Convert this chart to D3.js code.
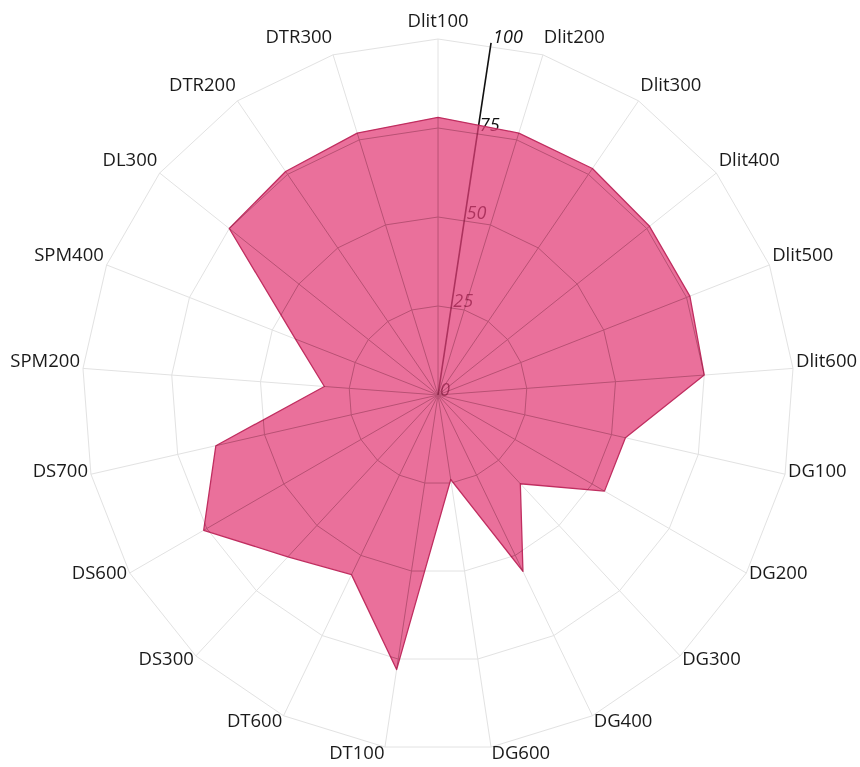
<!DOCTYPE html>
<html>
<head>
<meta charset="utf-8">
<script src="https://cdn.jsdelivr.net/npm/d3@7"></script>
<style>
  html, body { margin: 0; padding: 0; background: #ffffff; }
  svg { display: block; }
</style>
</head>
<body>
<svg id="chart" width="860" height="767"></svg>
<script>
const categories = ["Dlit100","Dlit200","Dlit300","Dlit400","Dlit500","Dlit600","DG100","DG200","DG300","DG400","DG600","DT100","DT600","DS300","DS600","DS700","SPM200","SPM400","DL300","DTR200","DTR300"];
const values = [78, 77, 77, 76, 76, 75, 54, 54, 34, 55, 24, 78, 56, 62, 76, 64, 32, 43, 75, 76, 77];
const radialTicks = [0, 25, 50, 75, 100];

const svg = d3.select("#chart");
const cx = 438, cy = 395, R = 356;
const n = categories.length;

const angle = d3.scaleLinear().domain([0, n]).range([0, 2 * Math.PI]);
const r = d3.scaleLinear().domain([0, 100]).range([0, R]);

const px = (a, rad) => cx + rad * Math.sin(a);
const py = (a, rad) => cy - rad * Math.cos(a);

const g = svg.append("g");

const line = d3.lineRadial()
  .angle((d, i) => angle(i))
  .radius(d => r(d))
  .curve(d3.curveLinearClosed);

svg.append("defs").append("clipPath").attr("id", "polyClip")
  .append("path").datum(values)
  .attr("transform", `translate(${cx},${cy})`)
  .attr("d", line);

function drawGrid(sel, color) {
  radialTicks.filter(t => t > 0).forEach(t => {
    const pts = d3.range(n).map(i => [px(angle(i), r(t)), py(angle(i), r(t))]);
    sel.append("path")
      .attr("d", d3.line().curve(d3.curveLinearClosed)(pts))
      .attr("fill", "none")
      .attr("stroke", color)
      .attr("stroke-width", 1);
  });
  sel.selectAll("line.spoke").data(d3.range(n)).enter().append("line")
    .attr("class", "spoke")
    .attr("x1", cx).attr("y1", cy)
    .attr("x2", i => px(angle(i), r(100)))
    .attr("y2", i => py(angle(i), r(100)))
    .attr("stroke", color)
    .attr("stroke-width", 1);
}

// light grid
drawGrid(g.append("g"), "#e2e2e2");

// radial axis (under the fill)
const axAngle = angle(0.5);
g.append("line")
  .attr("x1", px(axAngle, 0)).attr("y1", py(axAngle, 0))
  .attr("x2", px(axAngle, r(100))).attr("y2", py(axAngle, r(100)))
  .attr("stroke", "#111").attr("stroke-width", 1.6);

g.selectAll("text.tick").data(radialTicks).enter().append("text")
  .attr("class", "tick")
  .attr("x", d => px(axAngle, r(d)) + 2)
  .attr("y", d => py(axAngle, r(d)) + (d === 0 ? 1 : 0))
  .attr("font-family", "Open Sans, sans-serif")
  .attr("font-style", "italic")
  .attr("font-size", 18)
  .attr("fill", "#111")
  .text(d => d);

// data polygon
g.append("path")
  .datum(values)
  .attr("transform", `translate(${cx},${cy})`)
  .attr("d", line)
  .attr("fill", "rgb(226,62,120)")
  .attr("fill-opacity", 0.74)
  .attr("stroke", "rgb(192,46,96)")
  .attr("stroke-width", 1.3)
  .attr("stroke-linejoin", "round");

// grid seen through the fill (darker, multiplied)
const inner = g.append("g").attr("clip-path", "url(#polyClip)").style("mix-blend-mode", "multiply");
drawGrid(inner, "#d0c4c8");

// category labels
g.selectAll("text.cat").data(categories).enter().append("text")
  .attr("class", "cat")
  .attr("x", (d, i) => px(angle(i), R + 3))
  .attr("y", (d, i) => py(angle(i), R + 12))
  .attr("text-anchor", (d, i) => {
    const s = Math.sin(angle(i));
    return s > 0.05 ? "start" : (s < -0.05 ? "end" : "middle");
  })
  .attr("font-family", "Open Sans, sans-serif")
  .attr("font-size", 18.5)
  .attr("fill", "#1a1a1a")
  .text(d => d);
</script>
</body>
</html>
